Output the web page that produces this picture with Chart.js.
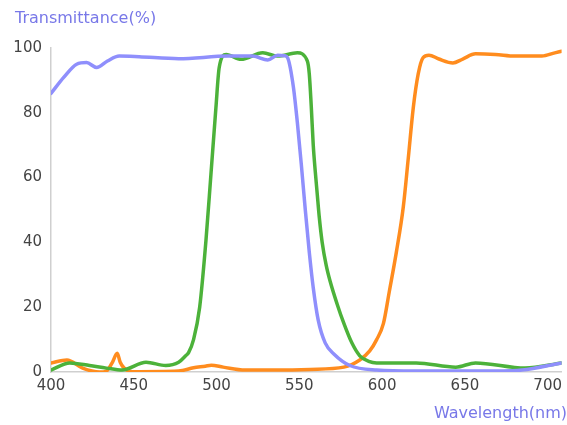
<!DOCTYPE html>
<html>
<head>
<meta charset="utf-8">
<script src="https://cdn.jsdelivr.net/npm/chart.js@4"></script>
<style>
  html, body { margin: 0; padding: 0; background: #fff; }
  #wrap { position: relative; width: 567px; height: 425px; overflow: hidden; }
  #c { position: absolute; left: 0; top: 0; }
  .ttl { position: absolute; font-family: "DejaVu Sans", Verdana, sans-serif; font-size: 16px; color: #7878e8; white-space: nowrap; line-height: 1; }
  #yt { left: 15px; top: 10px; }
  #xt { right: 0px; top: 405px; }
</style>
</head>
<body>
<div id="wrap">
  <canvas id="c" width="567" height="425"></canvas>
  <div class="ttl" id="yt">Transmittance(%)</div>
  <div class="ttl" id="xt">Wavelength(nm)</div>
</div>
<script>
// Wavelength (nm) / transmittance (%)
const xTickValues = [400, 450, 500, 550, 600, 650, 700];
const yTickValues = [0, 20, 40, 60, 80, 100];

const blueNm = [400, 407.8, 415.5, 421.5, 427.5, 434.1, 441.2, 453.2, 477.1, 507, 521.9, 530.9, 536.9, 541.1, 542.9, 546.4, 548.8, 551.2, 553.6, 556, 558.4, 561.4, 565.6, 571, 580.5, 596.7, 620.6, 668.4, 684.5, 708.4];
const blueT  = [86, 91, 95, 95.5, 94, 96, 97.5, 97.3, 96.7, 97.5, 97.5, 96.3, 97.8, 97.6, 97, 88, 77, 64, 50, 37, 26, 16, 9, 5.5, 2, 0.6, 0.3, 0.3, 0.6, 2.8];

const greenNm = [400, 411.4, 423.3, 433.5, 443, 457.4, 469.3, 477.1, 481.3, 483.1, 486.1, 489.8, 493.6, 496.6, 499.6, 501.6, 505.8, 514.8, 527.9, 536.9, 548.8, 554.8, 556, 557.2, 558.4, 559.6, 560.8, 562, 563.8, 566.2, 568.6, 572.8, 576.9, 581.7, 586.5, 591.9, 596.7, 620.6, 644.5, 656.4, 686.3, 708.4];
const greenT  = [0.6, 2.8, 2, 1.2, 0.6, 3, 2, 3, 5, 6, 10, 20, 40.6, 61, 81.5, 94, 98, 96.5, 98.5, 97.5, 98.5, 96, 92, 82, 70, 62, 55, 48, 40, 33, 28, 21, 15, 9, 5, 3.3, 2.8, 2.8, 1.5, 2.8, 1.2, 2.8];

const orangeNm = [400, 409.6, 419.1, 429.3, 433.5, 437.1, 440, 441.8, 444.2, 449, 477.1, 486.1, 493.2, 496.8, 504, 517.2, 536.9, 556.6, 576.9, 586.5, 592.5, 596.7, 600.8, 604.4, 608.6, 612.8, 615.8, 618.8, 621.8, 624.7, 628.3, 634.3, 642.7, 648.7, 656.4, 668.4, 680.3, 696.5, 704.3, 708.4];
const orangeT  = [2.8, 3.7, 1.2, 0, 0.3, 3, 5.8, 3, 1.2, 0.1, 0.3, 1.3, 1.8, 2.1, 1.5, 0.6, 0.6, 0.8, 1.5, 3.7, 6.5, 10, 15, 25, 37, 51, 66, 81.5, 92, 97, 97.8, 96.6, 95.4, 96.6, 98.2, 98, 97.5, 97.5, 98.5, 99];

const pts = (xs, ys) => xs.map((x, i) => ({ x: x, y: ys[i] }));

const lineStyle = { pointRadius: 0, pointHoverRadius: 0, borderWidth: 3.5, fill: false, cubicInterpolationMode: 'monotone', borderCapStyle: 'round', borderJoinStyle: 'round' };

new Chart(document.getElementById('c'), {
  type: 'line',
  data: {
    datasets: [
      Object.assign({ label: 'blue', data: pts(blueNm, blueT), borderColor: '#8f8ffc' }, lineStyle),
      Object.assign({ label: 'green', data: pts(greenNm, greenT), borderColor: '#4cb23a' }, lineStyle),
      Object.assign({ label: 'orange', data: pts(orangeNm, orangeT), borderColor: '#ff8c1e' }, lineStyle)
    ]
  },
  options: {
    responsive: false,
    animation: false,
    events: [],
    layout: { padding: { top: 48, right: 0, bottom: 0, left: 0 } },
    plugins: { legend: { display: false }, tooltip: { enabled: false }, title: { display: false } },
    scales: {
      x: {
        type: 'linear',
        min: 400,
        max: 708.4,
        afterBuildTicks: (s) => { s.ticks = xTickValues.map(v => ({ value: v })); },
        afterFit: (s) => { s.height = 53; },
        grid: { display: false, drawTicks: false },
        border: { display: true, color: '#cfcfcf', width: 1.5 },
        ticks: { padding: 5, maxRotation: 0, autoSkip: false, color: '#444', font: { family: 'DejaVu Sans', size: 15 } }
      },
      y: {
        min: 0,
        max: 100,
        afterBuildTicks: (s) => { s.ticks = yTickValues.map(v => ({ value: v })); },
        afterFit: (s) => { s.width = 51; },
        grid: { display: false, drawTicks: false },
        border: { display: true, color: '#cfcfcf', width: 1.5 },
        ticks: { padding: 9, color: '#444', font: { family: 'DejaVu Sans', size: 15 } }
      }
    }
  }
});
</script>
</body>
</html>
